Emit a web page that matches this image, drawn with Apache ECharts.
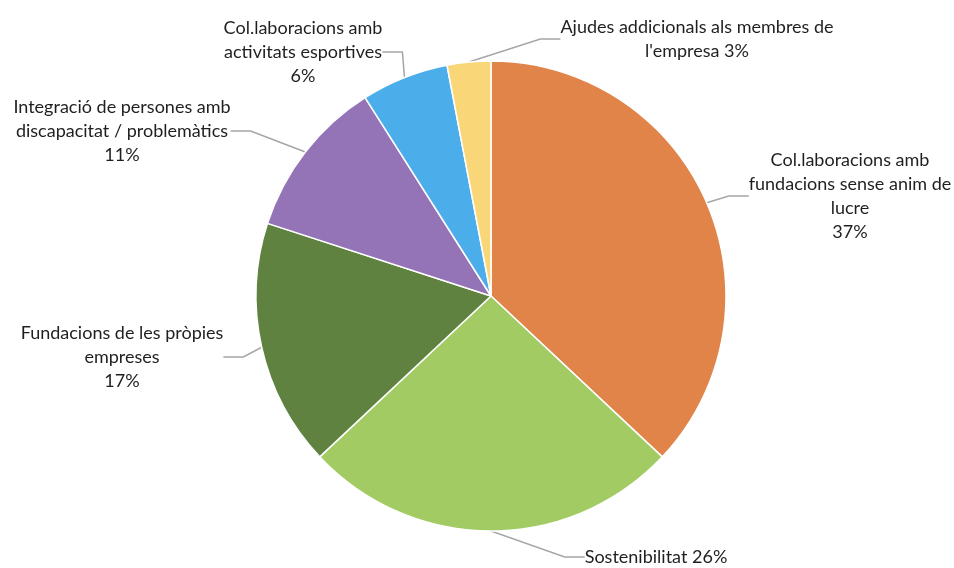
<!DOCTYPE html>
<html>
<head>
<meta charset="utf-8">
<script src="https://cdn.jsdelivr.net/npm/echarts@6/dist/echarts.min.js"></script>
<style>
  html, body { margin: 0; padding: 0; background: #fff; }
  #chart { width: 954px; height: 568px; }
</style>
</head>
<body>
<div id="chart"></div>
<script>
const categories = [
  "Col.laboracions amb\nfundacions sense anim de\nlucre",
  "Sostenibilitat",
  "Fundacions de les pròpies\nempreses",
  "Integració de persones amb\ndiscapacitat / problemàtics",
  "Col.laboracions amb\nactivitats esportives",
  "Ajudes addicionals als membres de\nl'empresa"
];
const values = [37, 26, 17, 11, 6, 3];
const colors = ["#E1844A", "#A2CB63", "#5F8240", "#9473B7", "#4BAEEA", "#F9D779"];
// put the percentage on the same line as the name for these slices
const inlinePercent = [false, true, false, false, false, true];

// where each label block sits (centre of text block)
const labelSpots = [
  [850, 196],
  [656, 557],
  [122, 357],
  [122, 131],
  [303, 52],
  [697, 39]
];

const chart = echarts.init(document.getElementById("chart"));

chart.setOption({
  backgroundColor: "#fff",
  animation: false,
  series: [{
    type: "pie",
    center: [491, 296],
    radius: 235,
    startAngle: 90,
    clockwise: true,
    color: colors,
    data: categories.map((name, i) => ({ name: name, value: values[i] })),
    itemStyle: { borderColor: "#fff", borderWidth: 1.5 },
    label: {
      show: true,
      position: "outside",
      color: "#1f1f1f",
      fontFamily: "Lato, 'Open Sans', sans-serif",
      fontSize: 18,
      lineHeight: 24,
      align: "center",
      overflow: "none",
      formatter: (p) => p.name + (inlinePercent[p.dataIndex] ? " " : "\n") + p.value + "%"
    },
    labelLine: {
      show: true,
      length: 20,
      length2: 20,
      lineStyle: { color: "#A6A6A6", width: 1.5 }
    },
    labelLayout: (p) => ({
      x: labelSpots[p.dataIndex][0],
      y: labelSpots[p.dataIndex][1],
      align: "center",
      verticalAlign: "middle"
    })
  }]
});
</script>
</body>
</html>
